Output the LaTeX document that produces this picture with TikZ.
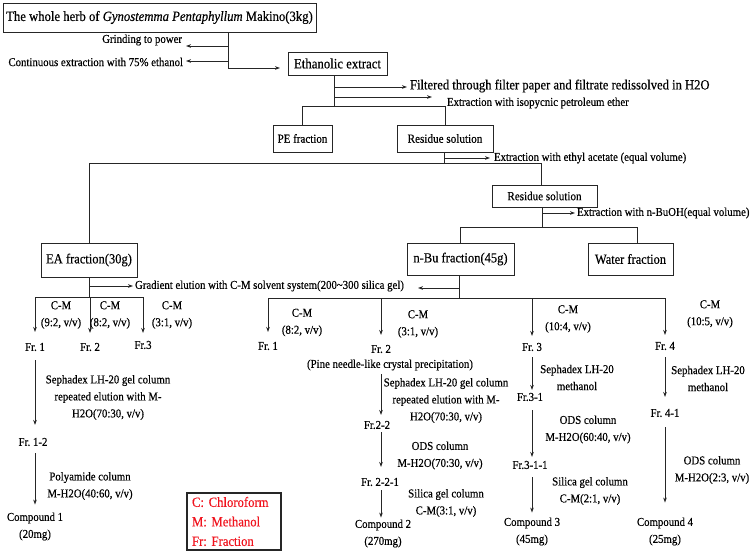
\documentclass[tikz,border=0pt]{standalone}
\usepackage{fontspec}
\setmainfont{Liberation Serif}[FakeStretch=0.9,FakeBold=0.35]
\usetikzlibrary{arrows.meta}
\definecolor{linecol}{HTML}{262626}
\definecolor{legred}{HTML}{F0141E}
\begin{document}
\frenchspacing
\begin{tikzpicture}[x=1pt,y=-1pt,
  txt/.style={inner sep=0pt, outer sep=0pt, font=\frenchspacing\fontsize{12}{17}\selectfont, align=center},
  bx/.style={draw=linecol, line width=0.9pt, inner sep=0pt, outer sep=0pt},
  ln/.style={draw=linecol, line width=0.8pt},
  arr/.style={ln, -{Stealth[length=5pt,width=3.6pt]}},
]
\useasboundingbox (0,0) rectangle (756,552);
% ---------- boxes ----------
\node[bx, minimum width=313, minimum height=29, font=\fontsize{14.1}{15}\selectfont] (herb) at (159.5,17.5) {The whole herb of \textit{Gynostemma Pentaphyllum} Makino(3kg)};
\node[bx, minimum width=99, minimum height=23, font=\fontsize{14.2}{15}\selectfont] (eth) at (337.5,63.5) {Ethanolic extract};
\node[bx, minimum width=59, minimum height=27, font=\fontsize{12.2}{13}\selectfont] (pe) at (302.5,138.5) {PE fraction};
\node[bx, minimum width=96, minimum height=27, font=\fontsize{12.4}{13}\selectfont] (res1) at (445,138.5) {Residue solution};
\node[bx, minimum width=105, minimum height=22, font=\fontsize{12.3}{13}\selectfont] (res2) at (544.5,196) {Residue solution};
\node[bx, minimum width=96, minimum height=34, font=\fontsize{13.9}{15}\selectfont] (ea) at (89,260) {EA fraction(30g)};
\node[bx, minimum width=107, minimum height=32, font=\fontsize{13.9}{15}\selectfont] (nbu) at (460.5,259) {n-Bu fraction(45g)};
\node[bx, minimum width=85, minimum height=32, font=\fontsize{13.8}{15}\selectfont] (water) at (630.5,259) {Water fraction};
% ---------- top ----------
\coordinate (j1) at (228,68);
\coordinate (t1) at (280,68);
\coordinate (g1) at (186,46);
\coordinate (g2) at (186,61);
\draw[arr] (herb.south -| j1) -- (j1) -- (t1);
\draw[arr] (j1 |- g1) -- (g1);
\draw[arr] (j1 |- g2) -- (g2);
\node[txt, anchor=east] (grind) at (182,40) {Grinding to power};
\node[txt, anchor=east] (cont) at (183,62) {Continuous extraction with 75\% ethanol};
% ---------- ethanolic extract ----------
\coordinate (j2) at (334,106);
\coordinate (f1) at (407,87);
\coordinate (f2) at (432,97);
\draw[ln] (eth.south -| j2) -- (j2);
\draw[arr] (j2 |- f1) -- (f1);
\draw[arr] (j2 |- f2) -- (f2);
\draw[ln] (pe.north) -- (pe.north |- j2) -- (res1.north |- j2) -- (res1.north);
\node[txt, anchor=west, font=\fontsize{14}{14}\selectfont] (filt) at (410,86) {Filtered through filter paper and filtrate redissolved in H2O};
\node[txt, anchor=west] (iso) at (447,103) {Extraction with isopycnic petroleum ether};
% ---------- residue 1 ----------
\coordinate (j3) at (444,163);
\coordinate (f3) at (490,158);
\coordinate (v2) at (541,0);
\draw[ln] (res1.south -| j3) -- (j3);
\draw[arr] (j3 |- f3) -- (f3);
\node[txt, anchor=west] (ethyl) at (494,158) {Extraction with ethyl acetate (equal volume)};
\draw[ln] (ea.north) -- (ea.north |- j3) -- (j3 -| v2) -- (res2.north -| v2);
% ---------- residue 2 ----------
\coordinate (j4) at (542,227);
\coordinate (f4) at (575,213);
\coordinate (wv) at (637,0);
\draw[ln] (res2.south -| j4) -- (j4);
\draw[arr] (j4 |- f4) -- (f4);
\node[txt, anchor=west] (buoh) at (577,213) {Extraction with n-BuOH(equal volume)};
\draw[ln] (nbu.north) -- (nbu.north |- j4) -- (j4 -| wv) -- (water.north -| wv);
% ---------- EA branch ----------
\coordinate (j5) at (89,297);
\coordinate (f5) at (133,286);
\draw[ln] (ea.south) -- (ea.south |- j5);
\draw[arr] (ea.south |- f5) -- (f5);
\node[txt, anchor=west] (grad) at (135,286) {Gradient elution with C-M solvent system(200\textasciitilde300 silica gel)};
\node[txt] (eaf1) at (35,347) {Fr. 1};
\node[txt] (eaf2) at (90,347) {Fr. 2};
\node[txt] (eaf3) at (143,345) {Fr.3};
\draw[ln] (eaf1.north |- j5) -- (eaf3.north |- j5);
\draw[arr, shorten >=11pt] (eaf1.north |- j5) -- (eaf1.north);
\draw[arr, shorten >=10pt] (eaf2.north |- j5) -- (eaf2.north);
\draw[arr, shorten >=8pt] (eaf3.north |- j5) -- (eaf3.north);
\node[txt] (cm1) at (61,315) {C-M\\(9:2, v/v)};
\node[txt] (cm2) at (110,315) {C-M\\(8:2, v/v)};
\node[txt] (cm3) at (172,315) {C-M\\(3:1, v/v)};
\node[txt] (eaf12) at (33,442) {Fr. 1-2};
\node[txt] (comp1) at (35,526.5) {Compound 1\\(20mg)};
\draw[arr, shorten <=9pt, shorten >=13pt] (eaf1.south) -- (eaf1.south |- eaf12.north);
\draw[arr, shorten <=7pt, shorten >=8pt] (eaf12.south -| eaf1) -- (comp1.north -| eaf1);
\node[txt] (sep1) at (108,397.5) {Sephadex LH-20 gel column\\repeated elution with M-\\H2O(70:30, v/v)};
\node[txt] (poly) at (90,486) {Polyamide column\\M-H2O(40:60, v/v)};
% ---------- n-Bu branch ----------
\coordinate (j6) at (459,298);
\coordinate (f6) at (418,288);
\draw[ln] (nbu.south -| j6) -- (j6);
\draw[arr] (j6 |- f6) -- (f6);
\node[txt] (nbf1) at (268,346) {Fr. 1};
\node[txt] (nbf2) at (381,349) {Fr. 2};
\node[txt] (nbf3) at (532,347) {Fr. 3};
\node[txt] (nbf4) at (665,346) {Fr. 4};
\draw[ln] (nbf1.north |- j6) -- (nbf4.north |- j6);
\draw[arr, shorten >=10pt] (nbf1.north |- j6) -- (nbf1.north);
\draw[arr, shorten >=10pt] (nbf2.north |- j6) -- (nbf2.north);
\draw[arr, shorten >=7pt] (nbf3.north |- j6) -- (nbf3.north);
\draw[arr, shorten >=7pt] (nbf4.north |- j6) -- (nbf4.north);
\node[txt] (cm4) at (302,322.5) {C-M\\(8:2, v/v)};
\node[txt] (cm5) at (418,324) {C-M\\(3:1, v/v)};
\node[txt] (cm6) at (568,319) {C-M\\(10:4, v/v)};
\node[txt] (cm7) at (710,314) {C-M\\(10:5, v/v)};
% Fr. 2 chain
\node[txt] (pine) at (390,365) {(Pine needle-like crystal precipitation)};
\node[txt] (nbf22) at (377,425) {Fr.2-2};
\node[txt] (nbf221) at (380,482) {Fr. 2-2-1};
\node[txt] (comp2) at (383,533.5) {Compound 2\\(270mg)};
\draw[arr, shorten <=4pt, shorten >=6pt] (pine.south -| nbf2) -- (nbf22.north -| nbf2);
\draw[arr, shorten <=3pt, shorten >=11pt] (nbf22.south -| nbf2) -- (nbf221.north -| nbf2);
\draw[arr, shorten <=4pt, shorten >=2pt] (nbf221.south -| nbf2) -- (comp2.north -| nbf2);
\node[txt] (sep2) at (446,400.5) {Sephadex LH-20 gel column\\repeated elution with M-\\H2O(70:30, v/v)};
\node[txt] (ods2) at (440,455.5) {ODS column\\M-H2O(70:30, v/v)};
\node[txt] (sil2) at (446,503) {Silica gel column\\C-M(3:1, v/v)};
% Fr. 3 chain
\node[txt] (nbf31) at (530,397) {Fr.3-1};
\node[txt] (nbf311) at (530,465) {Fr.3-1-1};
\node[txt] (comp3) at (532,531.5) {Compound 3\\(45mg)};
\draw[arr, shorten <=6pt, shorten >=3pt] (nbf3.south) -- (nbf3.south |- nbf31.north);
\draw[arr, shorten <=9pt, shorten >=4pt] (nbf31.south -| nbf3) -- (nbf311.north -| nbf3);
\draw[arr, shorten <=8pt, shorten >=5pt] (nbf311.south -| nbf3) -- (comp3.north -| nbf3);
\node[txt] (sep3) at (577,377.5) {Sephadex LH-20\\methanol};
\node[txt] (ods3) at (588,429.5) {ODS column\\M-H2O(60:40, v/v)};
\node[txt] (sil3) at (590,491) {Silica gel column\\C-M(2:1, v/v)};
% Fr. 4 chain
\node[txt] (nbf41) at (665,413) {Fr. 4-1};
\node[txt] (comp4) at (665,531.5) {Compound 4\\(25mg)};
\draw[arr, shorten <=7pt, shorten >=12pt] (nbf4.south) -- (nbf41.north);
\draw[arr, shorten <=10pt, shorten >=15pt] (nbf41.south) -- (comp4.north);
\node[txt] (sep4) at (708,378.5) {Sephadex LH-20\\methanol};
\node[txt] (ods4) at (712,470) {ODS column\\M-H2O(2:3, v/v)};
% ---------- legend ----------
\node[bx, line width=1.1pt, anchor=north west, text=legred, align=left, font=\frenchspacing\fontsize{14.1}{19.5}\selectfont,
      inner xsep=5pt, inner ysep=0pt, minimum width=94, minimum height=57, text width=84] (legend) at (187,493)
      {C:~Chloroform\\M:~Methanol\\Fr:~Fraction};
\end{tikzpicture}
\end{document}
